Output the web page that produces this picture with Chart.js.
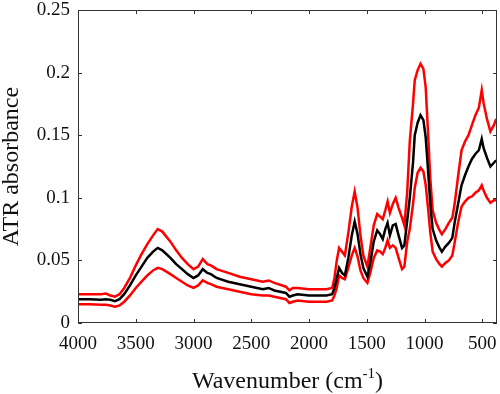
<!DOCTYPE html>
<html>
<head>
<meta charset="utf-8">
<script src="https://cdn.jsdelivr.net/npm/chart.js@4/dist/chart.umd.min.js"></script>
<style>
  body { margin: 0; background: #fff; }
</style>
</head>
<body>
<canvas id="myChart" width="500" height="394"></canvas>
<script>
// datos
const wavenumber = [4000, 3900, 3800, 3760, 3720, 3680, 3640, 3600, 3550, 3500, 3450, 3400, 3350, 3310, 3270, 3200, 3150, 3100, 3050, 3000,
  2960, 2920, 2880, 2850, 2800, 2700, 2600, 2500, 2400, 2350, 2300, 2200, 2170, 2140, 2100, 2000, 1900, 1850, 1800,
  1780, 1760, 1740, 1715, 1690, 1660, 1630, 1605, 1580, 1555, 1530, 1495, 1470, 1440, 1410, 1385, 1362, 1340, 1320,
  1300, 1275, 1250, 1225, 1195, 1175, 1150, 1128, 1100, 1085, 1060, 1035, 1010, 990, 970, 950, 930, 900, 870, 850,
  820, 790, 760, 740, 710, 680, 650, 620, 590, 560, 530, 505, 490, 460, 430, 400, 380];

const meanAbs = [0.019, 0.019, 0.0185, 0.019, 0.0185, 0.0175, 0.019, 0.023, 0.030, 0.038, 0.045, 0.052, 0.057, 0.060, 0.058, 0.052, 0.047, 0.043, 0.039, 0.036,
  0.038, 0.043, 0.040, 0.039, 0.036, 0.033, 0.031, 0.029, 0.027, 0.028, 0.026, 0.024, 0.021, 0.022, 0.023, 0.022, 0.022, 0.022, 0.023,
  0.028, 0.036, 0.044, 0.040, 0.038, 0.052, 0.070, 0.081, 0.071, 0.055, 0.044, 0.037, 0.048, 0.065, 0.074, 0.071, 0.067, 0.075, 0.080,
  0.070, 0.078, 0.079, 0.070, 0.060, 0.062, 0.082, 0.100, 0.128, 0.150, 0.160, 0.166, 0.162, 0.148, 0.122, 0.095, 0.075, 0.066, 0.060, 0.057,
  0.061, 0.064, 0.068, 0.080, 0.095, 0.110, 0.118, 0.125, 0.131, 0.135, 0.138, 0.147, 0.140, 0.132, 0.125, 0.128, 0.130];

const upperAbs = [0.023, 0.023, 0.023, 0.0235, 0.022, 0.021, 0.023, 0.028, 0.036, 0.046, 0.055, 0.063, 0.070, 0.075, 0.073, 0.065, 0.058, 0.052, 0.047, 0.043,
  0.045, 0.051, 0.047, 0.046, 0.043, 0.040, 0.037, 0.035, 0.033, 0.034, 0.032, 0.029, 0.026, 0.028, 0.028, 0.027, 0.027, 0.027, 0.028,
  0.036, 0.050, 0.060, 0.057, 0.054, 0.072, 0.093, 0.105, 0.092, 0.070, 0.054, 0.045, 0.060, 0.078, 0.087, 0.085, 0.083, 0.090, 0.097,
  0.088, 0.095, 0.100, 0.092, 0.084, 0.078, 0.105, 0.145, 0.175, 0.194, 0.202, 0.207, 0.203, 0.188, 0.152, 0.115, 0.090, 0.080, 0.074, 0.071,
  0.075, 0.080, 0.084, 0.095, 0.117, 0.138, 0.145, 0.150, 0.158, 0.166, 0.172, 0.186, 0.176, 0.163, 0.153, 0.158, 0.163];

const lowerAbs = [0.015, 0.015, 0.0145, 0.0145, 0.014, 0.013, 0.014, 0.017, 0.022, 0.028, 0.033, 0.038, 0.042, 0.044, 0.043, 0.039, 0.036, 0.033, 0.030, 0.028,
  0.030, 0.034, 0.032, 0.031, 0.029, 0.027, 0.025, 0.023, 0.022, 0.022, 0.021, 0.019, 0.016, 0.017, 0.018, 0.017, 0.017, 0.017, 0.018,
  0.022, 0.028, 0.038, 0.036, 0.035, 0.044, 0.054, 0.060, 0.053, 0.042, 0.036, 0.032, 0.040, 0.052, 0.058, 0.057, 0.055, 0.060, 0.066,
  0.060, 0.062, 0.060, 0.052, 0.043, 0.045, 0.065, 0.075, 0.095, 0.108, 0.120, 0.124, 0.121, 0.110, 0.092, 0.072, 0.057, 0.051, 0.047, 0.045,
  0.048, 0.050, 0.054, 0.064, 0.080, 0.093, 0.097, 0.100, 0.101, 0.104, 0.106, 0.110, 0.106, 0.100, 0.096, 0.098, 0.098];

const xTicks = [4000, 3500, 3000, 2500, 2000, 1500, 1000, 500];
const yTicks = [0, 0.05, 0.1, 0.15, 0.2, 0.25];

const fuente = 'Liberation Serif, Times New Roman, serif';

function puntos(valores) {
  return wavenumber.map((w, i) => ({ x: w, y: valores[i] }));
}

// marco tipo matlab, ticks hacia adentro y titulo del eje x con superindice
const marco = {
  id: 'marco',
  afterDraw(chart) {
    const { ctx, chartArea: a, scales } = chart;
    ctx.save();
    ctx.strokeStyle = '#333';
    ctx.lineWidth = 1;
    ctx.strokeRect(a.left + 0.5, a.top + 0.5, a.right - a.left - 1, a.bottom - a.top - 1);
    ctx.beginPath();
    xTicks.forEach(v => {
      const px = Math.round(scales.x.getPixelForValue(v)) + 0.5;
      ctx.moveTo(px, a.bottom); ctx.lineTo(px, a.bottom - 4);
      ctx.moveTo(px, a.top); ctx.lineTo(px, a.top + 4);
    });
    yTicks.forEach(v => {
      const py = Math.round(scales.y.getPixelForValue(v)) + 0.5;
      ctx.moveTo(a.left, py); ctx.lineTo(a.left + 4, py);
      ctx.moveTo(a.right, py); ctx.lineTo(a.right - 4, py);
    });
    ctx.stroke();

    ctx.fillStyle = '#111';
    ctx.textBaseline = 'alphabetic';
    const big = '24px ' + fuente;
    const small = '15px ' + fuente;
    const t1 = 'Wavenumber (cm', t2 = '-1', t3 = ')';
    ctx.font = big;
    const w1 = ctx.measureText(t1).width, w3 = ctx.measureText(t3).width;
    ctx.font = small;
    const w2 = ctx.measureText(t2).width;
    let x = (a.left + a.right) / 2 - (w1 + w2 + w3) / 2;
    const base = 388;
    ctx.font = big;
    ctx.fillText(t1, x, base); x += w1;
    ctx.font = small;
    ctx.fillText(t2, x, base - 10); x += w2;
    ctx.font = big;
    ctx.fillText(t3, x, base);
    ctx.restore();
  }
};

const ctxGrafico = document.getElementById('myChart').getContext('2d');

new Chart(ctxGrafico, {
  type: 'line',
  data: {
    datasets: [
      { label: 'media', data: puntos(meanAbs), borderColor: '#000', borderWidth: 2.5 },
      { label: 'superior', data: puntos(upperAbs), borderColor: '#ff0000', borderWidth: 2.5 },
      { label: 'inferior', data: puntos(lowerAbs), borderColor: '#ff0000', borderWidth: 2.5 }
    ]
  },
  options: {
    responsive: false,
    animation: false,
    devicePixelRatio: 1,
    layout: { padding: { top: 10, right: 3, left: 0, bottom: 0 } },
    elements: { point: { radius: 0 }, line: { tension: 0 } },
    plugins: { legend: { display: false }, tooltip: { enabled: false } },
    scales: {
      x: {
        type: 'linear',
        reverse: true,
        min: 373,
        max: 4000,
        afterBuildTicks: scale => { scale.ticks = xTicks.map(v => ({ value: v })); },
        afterFit: scale => { scale.height = 71; scale.paddingLeft = 0; scale.paddingRight = 0; },
        grid: { display: false, drawTicks: false },
        border: { display: false },
        ticks: {
          color: '#111', padding: 10, maxRotation: 0, autoSkip: false, font: { family: fuente, size: 19 },
          callback: v => String(v)
        }
      },
      y: {
        min: 0,
        max: 0.25,
        afterBuildTicks: scale => { scale.ticks = yTicks.map(v => ({ value: v })); },
        afterFit: scale => { scale.width = 78; scale.paddingTop = 0; scale.paddingBottom = 0; },
        grid: { display: false, drawTicks: false },
        border: { display: false },
        ticks: {
          color: '#111', padding: 8, font: { family: fuente, size: 19 },
          callback: v => String(Number(v.toFixed(2)))
        },
        title: {
          display: true, text: 'ATR absorbance', color: '#111',
          padding: { top: 0, bottom: 0 },
          font: { family: fuente, size: 24, lineHeight: 1 }
        }
      }
    }
  },
  plugins: [marco]
});
</script>
</body>
</html>
